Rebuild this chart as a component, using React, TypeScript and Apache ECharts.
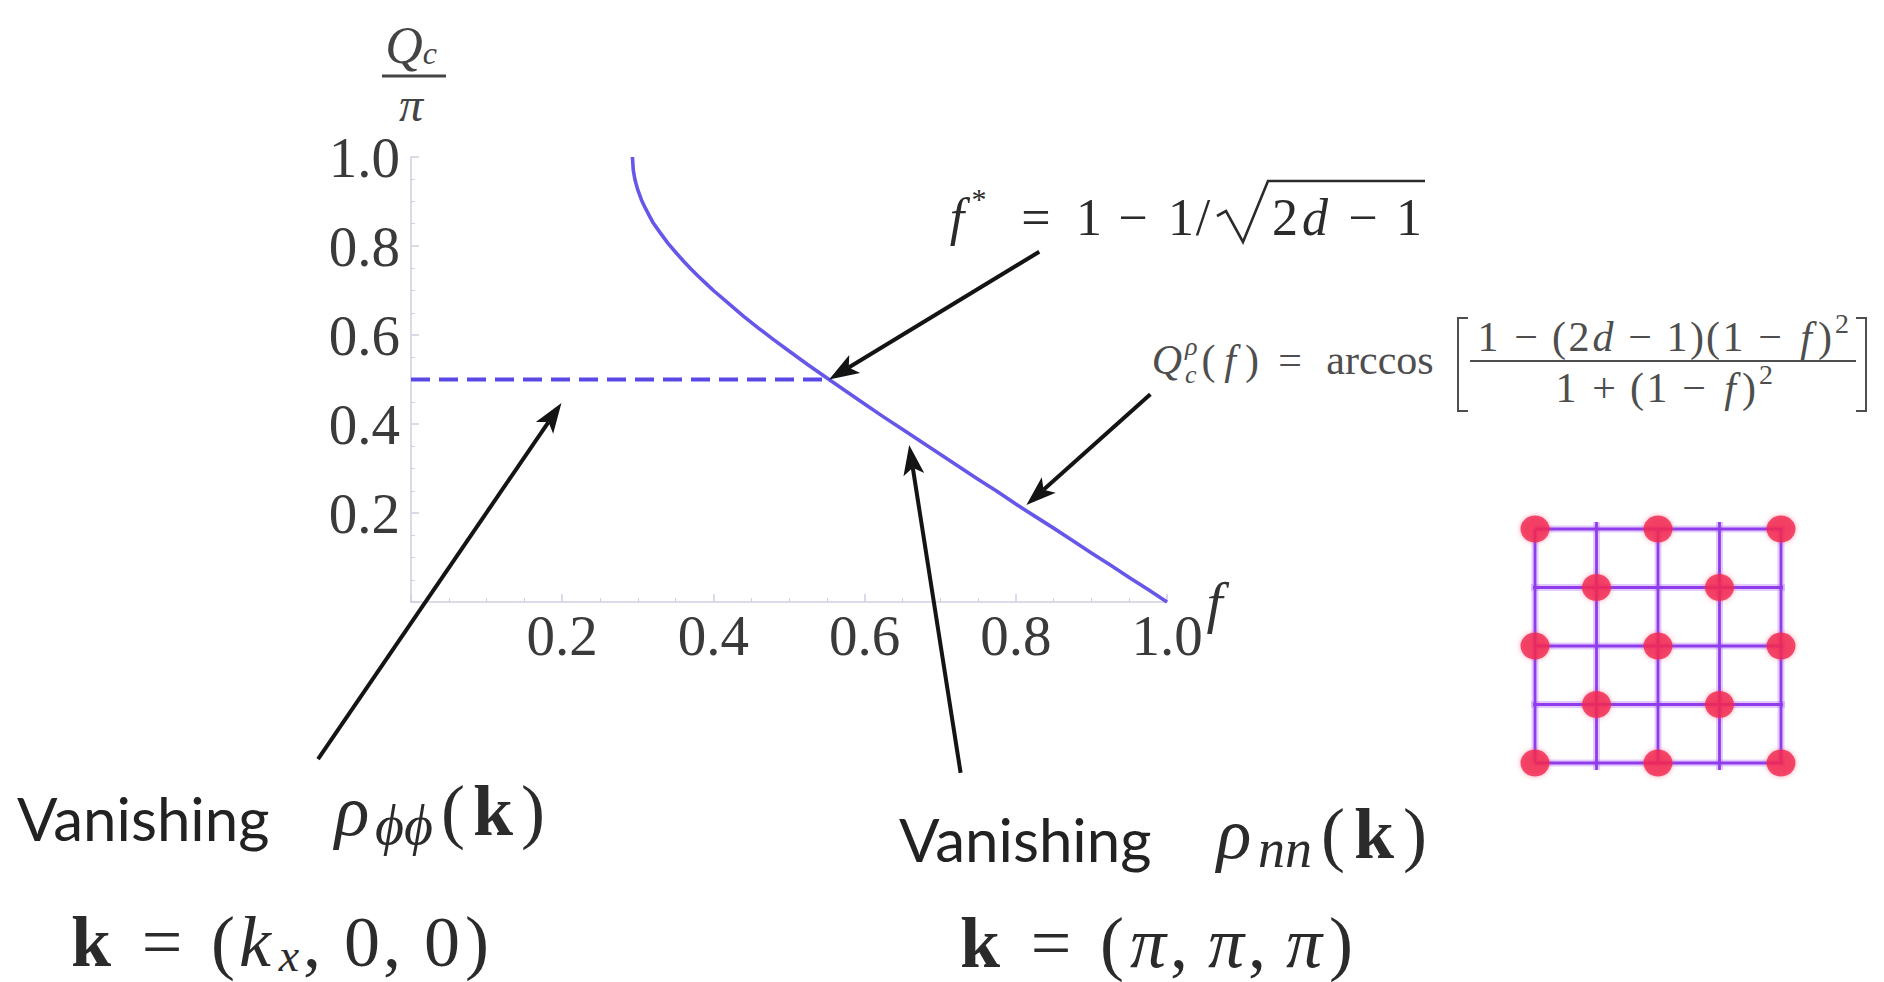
import React, { useEffect, useRef } from "react";
import * as echarts from "echarts";

// Critical wave number Q_c/π against the filling f (d = 3)
const fValues = [
  0.2929, 0.294, 0.296, 0.298, 0.3, 0.305, 0.31, 0.315, 0.32, 0.33, 0.34, 0.35, 0.36, 0.37, 0.38, 0.39, 0.4, 0.42, 0.44,
  0.46, 0.48, 0.5, 0.525, 0.553, 0.575, 0.6, 0.625, 0.65, 0.675, 0.7, 0.725, 0.75, 0.775, 0.8, 0.825, 0.85, 0.875, 0.9,
  0.925, 0.95, 0.975, 1.0,
];
const qValues = [
  1.0, 0.971, 0.951, 0.938, 0.926, 0.903, 0.885, 0.869, 0.853, 0.829, 0.806, 0.786, 0.767, 0.749, 0.732, 0.716, 0.7,
  0.671, 0.642, 0.615, 0.589, 0.564, 0.533, 0.5, 0.474, 0.445, 0.416, 0.388, 0.36, 0.332, 0.304, 0.276, 0.249, 0.22,
  0.193, 0.166, 0.138, 0.11, 0.083, 0.055, 0.028, 0.0,
];

// plateau of the dashed branch, ending at f*
const fStar = 0.553;
const plateau = 0.5;

// axis range
const axisMin = 0;
const axisMax = 1;
const axisStep = 0.2;

// arrows: [tailX, tailY, tipX, tipY] in (f, Q_c/π) units
const arrowFStar = [0.831, 0.787, 0.553, 0.5];
const arrowFormula = [0.978, 0.467, 0.814, 0.218];
const arrowPhiPhi = [-0.123, -0.353, 0.199, 0.447];
const arrowNn = [0.727, -0.384, 0.659, 0.353];

// checkerboard lattice: occupied sites
const siteX = [0, 2, 4, 1, 3, 0, 2, 4, 1, 3, 0, 2, 4];
const siteY = [4, 4, 4, 3, 3, 2, 2, 2, 1, 1, 0, 0, 0];
// bonds: rows [y, xStart, xEnd], columns [x, yStart, yEnd]
const bondRows = [
  [4, 0, 4.28],
  [3, -0.07, 4.28],
  [2, 0, 4.28],
  [1, -0.07, 4.28],
  [0, 0, 4.28],
];
const bondCols = [
  [0, 0, 4],
  [1, -0.12, 4.12],
  [2, 0, 4],
  [3, -0.12, 4.12],
  [4, 0, 4],
];

const SERIF = "'Liberation Serif', 'DejaVu Serif', serif";
const SANS = "Lato, 'Open Sans', sans-serif";
const CURVE = "#6657e8";
const AXIS = "#d3cde0";

type Tok = { t: string; w: number; size?: number; it?: boolean; bold?: boolean; pos?: "sup" | "sub" };

function mathRow(
  id: string,
  x: number,
  y: number,
  toks: Tok[],
  base: number,
  fill: string,
  align: "left" | "center" = "left",
  lineFactor = 1.3
) {
  const rich: Record<string, any> = {};
  let text = "";
  toks.forEach((k, i) => {
    const name = "m" + i;
    const size = k.size ?? base;
    rich[name] = {
      fontSize: size,
      fontFamily: SERIF,
      fontStyle: k.it ? "italic" : "normal",
      fontWeight: k.bold ? "bold" : "normal",
      width: k.w,
      align: "center",
      verticalAlign: k.pos === "sup" ? "top" : k.pos === "sub" ? "bottom" : "middle",
      lineHeight: k.pos ? size : Math.round(base * lineFactor),
      fill,
    };
    text += `{${name}|${k.t}}`;
  });
  return {
    type: "text",
    id,
    x,
    y,
    z: 10,
    style: { text, rich, fill, fontFamily: SERIF, fontSize: base, align, verticalAlign: "middle" },
  };
}

function arrow(id: string, tail: number[], tip: number[]) {
  const dx = tip[0] - tail[0];
  const dy = tip[1] - tail[1];
  const L = Math.hypot(dx, dy);
  const ux = dx / L;
  const uy = dy / L;
  const nx = -uy;
  const ny = ux;
  const len = 30;
  const half = 10.5;
  const notch = 7;
  const bx = tip[0] - ux * len;
  const by = tip[1] - uy * len;
  const ix = tip[0] - ux * (len - notch);
  const iy = tip[1] - uy * (len - notch);
  return [
    {
      type: "line",
      id: id + "-shaft",
      z: 12,
      shape: { x1: tail[0], y1: tail[1], x2: ix, y2: iy },
      style: { stroke: "#141414", lineWidth: 4 },
    },
    {
      type: "polygon",
      id: id + "-head",
      z: 12,
      shape: {
        points: [
          [tip[0], tip[1]],
          [bx + nx * half, by + ny * half],
          [ix, iy],
          [bx - nx * half, by - ny * half],
        ],
      },
      style: { fill: "#141414" },
    },
  ];
}

// each bond is a soft violet halo under a sharper core
function bondSeries(name: string, a: number[], b: number[]) {
  const base = {
    type: "line",
    xAxisIndex: 1,
    yAxisIndex: 1,
    data: [a, b],
    symbol: "none",
    showSymbol: false,
    clip: false,
    silent: true,
  };
  return [
    { ...base, name: name + "-halo", lineStyle: { color: "rgba(176,110,250,0.35)", width: 7 }, z: 2 },
    { ...base, name, lineStyle: { color: "#8f3ceb", width: 2.8 }, z: 3 },
  ];
}

export default function App() {
  const ref = useRef<HTMLDivElement>(null);

  useEffect(() => {
    if (!ref.current) return;
    const chart = echarts.init(ref.current, undefined, { renderer: "svg" });

    const tickLabel = (v: number) => (v === 0 ? "" : v.toFixed(1));
    const axisCommon = {
      type: "value" as const,
      min: axisMin,
      max: axisMax,
      interval: axisStep,
      axisLine: { show: true, lineStyle: { color: AXIS, width: 1.5 } },
      axisTick: { show: true, inside: true, length: 8, lineStyle: { color: AXIS, width: 1.5 } },
      minorTick: { show: true, splitNumber: 4, length: 4, lineStyle: { color: AXIS, width: 1 } },
      splitLine: { show: false },
    };

    const bonds = [
      ...bondRows.flatMap((r, i) => bondSeries("row" + i, [r[1], r[0]], [r[2], r[0]])),
      ...bondCols.flatMap((c, i) => bondSeries("col" + i, [c[0], c[1]], [c[0], c[2]])),
    ];

    const option: any = {
      animation: false,
      backgroundColor: "#ffffff",
      grid: [
        { left: 411, top: 157, width: 756, height: 445, containLabel: false, outerBoundsMode: "none" },
        { left: 1535, top: 529, width: 246, height: 234, containLabel: false, outerBoundsMode: "none" },
      ],
      xAxis: [
        {
          ...axisCommon,
          gridIndex: 0,
          name: "f",
          nameLocation: "end",
          nameGap: 36,
          nameTextStyle: { fontFamily: SERIF, fontStyle: "italic", fontSize: 58, color: "#333", verticalAlign: "middle" },
          axisLabel: { formatter: tickLabel, fontFamily: SERIF, fontSize: 57, color: "#3a3a3a", margin: 5 },
        },
        { type: "value", gridIndex: 1, min: 0, max: 4, show: false },
      ],
      yAxis: [
        {
          ...axisCommon,
          gridIndex: 0,
          name: "{q|Q}{c|c}\n{p|π}",
          nameLocation: "end",
          nameGap: 22,
          nameTextStyle: {
            align: "center",
            rich: {
              q: { fontFamily: SERIF, fontStyle: "italic", fontSize: 52, lineHeight: 74, color: "#444" },
              c: {
                fontFamily: SERIF,
                fontStyle: "italic",
                fontSize: 32,
                lineHeight: 40,
                verticalAlign: "bottom",
                padding: [0, 0, 14, 0],
                color: "#444",
              },
              p: { fontFamily: SERIF, fontStyle: "italic", fontSize: 48, lineHeight: 44, color: "#444" },
            },
          },
          axisLabel: { formatter: tickLabel, fontFamily: SERIF, fontSize: 57, color: "#3a3a3a", margin: 11 },
        },
        { type: "value", gridIndex: 1, min: 0, max: 4, show: false },
      ],
      series: [
        {
          name: "Q_c/π",
          type: "line",
          xAxisIndex: 0,
          yAxisIndex: 0,
          data: fValues.map((f, i) => [f, qValues[i]]),
          showSymbol: false,
          symbol: "none",
          smooth: false,
          lineStyle: { color: CURVE, width: 3.6, join: "round" },
          z: 5,
        },
        {
          name: "plateau",
          type: "line",
          xAxisIndex: 0,
          yAxisIndex: 0,
          data: [
            [axisMin, plateau],
            [fStar, plateau],
          ],
          showSymbol: false,
          symbol: "none",
          lineStyle: { color: "#5a48e6", width: 4, type: [19, 9] },
          z: 5,
        },
        ...bonds,
        {
          name: "sites",
          type: "scatter",
          xAxisIndex: 1,
          yAxisIndex: 1,
          data: siteX.map((x, i) => [x, siteY[i]]),
          symbol: "circle",
          symbolSize: [29, 27],
          itemStyle: { color: "#f1264f", shadowBlur: 5, shadowColor: "rgba(245,60,100,0.6)" },
          silent: true,
          z: 4,
        },
      ],
    };

    chart.setOption(option);

    const px = (p: number[]) => chart.convertToPixel({ gridIndex: 0 }, p) as number[];
    const arrowSpecs: [string, number[]][] = [
      ["a-fstar", arrowFStar],
      ["a-formula", arrowFormula],
      ["a-phiphi", arrowPhiPhi],
      ["a-nn", arrowNn],
    ];
    const arrows = arrowSpecs.flatMap(([id, a]) => arrow(id, px([a[0], a[1]]), px([a[2], a[3]])));

    const dark = "#2b2b2b";
    const mid = "#4e4e4e";

    const graphic: any[] = [
      // fraction bar of the y-axis title
      { type: "line", id: "ybar", shape: { x1: 382, y1: 76, x2: 446, y2: 76 }, style: { stroke: "#444", lineWidth: 3 } },

      // f* = 1 − 1/√(2d − 1)
      mathRow(
        "fstar-a",
        946,
        217,
        [
          { t: "f", w: 22, it: true },
          { t: "*", w: 22, size: 30, pos: "sup" },
          { t: "=", w: 92 },
          { t: "1", w: 14 },
          { t: "−", w: 74 },
          { t: "1", w: 22 },
          { t: "/", w: 22 },
        ],
        52,
        dark
      ),
      {
        type: "polyline",
        id: "fstar-root",
        z: 10,
        shape: { points: [[1217, 216], [1226, 211], [1243, 242], [1268, 181], [1425, 181]] },
        style: { stroke: dark, lineWidth: 2.6, fill: null },
      },
      mathRow(
        "fstar-b",
        1271,
        217,
        [
          { t: "2", w: 28 },
          { t: "d", w: 32, it: true },
          { t: "−", w: 64 },
          { t: "1", w: 28 },
        ],
        52,
        dark
      ),

      // Q_c^ρ(f) = arccos[ ... ]
      mathRow("qc-q", 1150, 360, [{ t: "Q", w: 34, it: true }], 42, mid),
      {
        type: "text",
        id: "qc-rho",
        x: 1185,
        y: 346,
        z: 10,
        style: { text: "ρ", fontFamily: SERIF, fontStyle: "italic", fontSize: 26, fill: mid, align: "left", verticalAlign: "middle" },
      },
      {
        type: "text",
        id: "qc-c",
        x: 1185,
        y: 374,
        z: 10,
        style: { text: "c", fontFamily: SERIF, fontStyle: "italic", fontSize: 26, fill: mid, align: "left", verticalAlign: "middle" },
      },
      mathRow(
        "qc-rest",
        1201,
        360,
        [
          { t: "(", w: 15 },
          { t: "f", w: 28, it: true },
          { t: ")", w: 16 },
          { t: "=", w: 60 },
          { t: "arccos", w: 120 },
        ],
        42,
        mid
      ),
      {
        type: "polyline",
        id: "qc-lb",
        z: 10,
        shape: { points: [[1468, 318], [1458, 318], [1458, 411], [1468, 411]] },
        style: { stroke: mid, lineWidth: 2, fill: null },
      },
      {
        type: "polyline",
        id: "qc-rb",
        z: 10,
        shape: { points: [[1856, 318], [1866, 318], [1866, 411], [1856, 411]] },
        style: { stroke: mid, lineWidth: 2, fill: null },
      },
      { type: "line", id: "qc-bar", z: 10, shape: { x1: 1470, y1: 361, x2: 1856, y2: 361 }, style: { stroke: mid, lineWidth: 2 } },
      mathRow(
        "qc-num",
        1663,
        337,
        [
          { t: "1", w: 26 },
          { t: "−", w: 50 },
          { t: "(", w: 16 },
          { t: "2", w: 24 },
          { t: "d", w: 24, it: true },
          { t: "−", w: 50 },
          { t: "1", w: 24 },
          { t: ")", w: 16 },
          { t: "(", w: 16 },
          { t: "1", w: 24 },
          { t: "−", w: 50 },
          { t: "f", w: 22, it: true },
          { t: ")", w: 16 },
          { t: "2", w: 18, size: 28, pos: "sup" },
        ],
        42,
        mid,
        "center"
      ),
      mathRow(
        "qc-den",
        1664,
        388,
        [
          { t: "1", w: 26 },
          { t: "+", w: 50 },
          { t: "(", w: 16 },
          { t: "1", w: 24 },
          { t: "−", w: 50 },
          { t: "f", w: 22, it: true },
          { t: ")", w: 16 },
          { t: "2", w: 18, size: 28, pos: "sup" },
        ],
        42,
        mid,
        "center"
      ),

      // left caption
      {
        type: "text",
        id: "van-l",
        x: 17,
        y: 818,
        z: 10,
        style: { text: "Vanishing", fontFamily: SANS, fontSize: 60, fill: "#222", align: "left", verticalAlign: "middle" },
      },
      mathRow(
        "rho-pp",
        334,
        811,
        [
          { t: "ρ", w: 36, it: true },
          { t: "ϕϕ", w: 68, size: 56, it: true, pos: "sub" },
          { t: "(", w: 30 },
          { t: "k", w: 50, bold: true },
          { t: ")", w: 30 },
        ],
        72,
        dark,
        "left",
        1.15
      ),
      mathRow(
        "k-x",
        68,
        942,
        [
          { t: "k", w: 46, bold: true },
          { t: "=", w: 96 },
          { t: "(", w: 26 },
          { t: "k", w: 38, it: true },
          { t: "x", w: 30, size: 46, it: true, pos: "sub" },
          { t: ",", w: 16 },
          { t: " ", w: 20 },
          { t: "0", w: 44 },
          { t: ",", w: 16 },
          { t: " ", w: 20 },
          { t: "0", w: 44 },
          { t: ")", w: 26 },
        ],
        72,
        dark,
        "left",
        1.0
      ),

      // right caption
      {
        type: "text",
        id: "van-r",
        x: 899,
        y: 839,
        z: 10,
        style: { text: "Vanishing", fontFamily: SANS, fontSize: 60, fill: "#222", align: "left", verticalAlign: "middle" },
      },
      mathRow(
        "rho-nn",
        1216,
        834,
        [
          { t: "ρ", w: 36, it: true },
          { t: "nn", w: 66, size: 54, it: true, pos: "sub" },
          { t: "(", w: 30 },
          { t: "k", w: 52, bold: true },
          { t: ")", w: 30 },
        ],
        72,
        dark,
        "left",
        1.15
      ),
      mathRow(
        "k-pi",
        957,
        943,
        [
          { t: "k", w: 46, bold: true },
          { t: "=", w: 96 },
          { t: "(", w: 26 },
          { t: "π", w: 46, it: true },
          { t: ",", w: 16 },
          { t: " ", w: 16 },
          { t: "π", w: 46, it: true },
          { t: ",", w: 16 },
          { t: " ", w: 16 },
          { t: "π", w: 46, it: true },
          { t: ")", w: 28 },
        ],
        72,
        dark,
        "left",
        1.0
      ),
      ...arrows,
    ];

    chart.setOption({ graphic });

    return () => chart.dispose();
  }, []);

  return <div ref={ref} style={{ position: "fixed", left: 0, top: 0, width: 1884, height: 982 }} />;
}
